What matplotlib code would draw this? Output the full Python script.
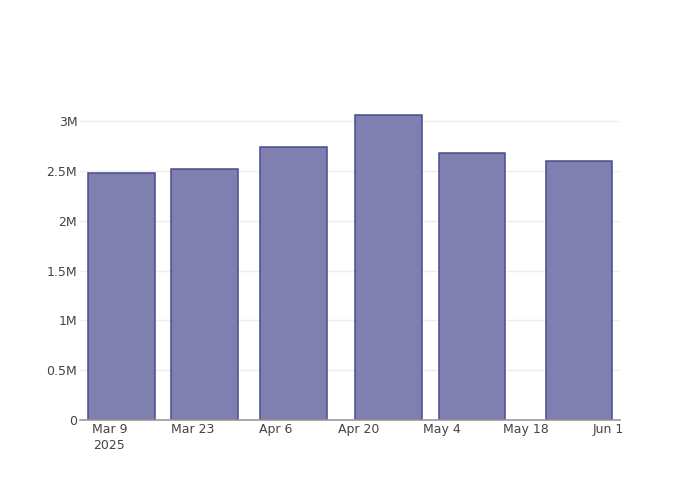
import numpy as np
import matplotlib
matplotlib.use("Agg")
import matplotlib.pyplot as plt
import matplotlib.dates as mdates

dates = np.array(["2025-03-11", "2025-03-25", "2025-04-09", "2025-04-25", "2025-05-09", "2025-05-27"], dtype="datetime64[D]")
values = [2485000, 2522000, 2744000, 3062000, 2683000, 2606000]

tick_dates = np.array(["2025-03-09", "2025-03-23", "2025-04-06", "2025-04-20", "2025-05-04", "2025-05-18", "2025-06-01"], dtype="datetime64[D]")
tick_labels = ["Mar 9\n2025", "Mar 23", "Apr 6", "Apr 20", "May 4", "May 18", "Jun 1"]
y_ticks = [0, 500000, 1000000, 1500000, 2000000, 2500000, 3000000]
y_labels = ["0", "0.5M", "1M", "1.5M", "2M", "2.5M", "3M"]

fig = plt.figure(figsize=(7, 5), dpi=100)
ax = fig.add_axes([80 / 700, 80 / 500, 540 / 700, 320 / 500])

ax.bar(dates.astype("datetime64[ms]").astype(object), values, width=11.2,
       color="#7f7fb0", edgecolor="#4b4a8f", linewidth=1.1, zorder=3)

ax.set_xlim(mdates.date2num(np.datetime64("2025-03-04T01:00")), mdates.date2num(np.datetime64("2025-06-02T22:00")))
ax.set_ylim(0, 3216000)

ax.set_xticks(mdates.date2num(tick_dates))
ax.set_xticklabels(tick_labels, linespacing=1.3)
ax.set_yticks(y_ticks)
ax.set_yticklabels(y_labels)

ax.grid(axis="y", color="#eeeeee", linewidth=1, zorder=0)
for s in ["top", "right", "left"]:
    ax.spines[s].set_visible(False)
ax.spines["bottom"].set_color("#999999")
ax.spines["bottom"].set_linewidth(1.2)
ax.spines["bottom"].set_zorder(4)

ax.tick_params(axis="x", length=0, pad=2.5, labelsize=9, labelcolor="#444444")
ax.tick_params(axis="y", length=0, pad=2, labelsize=9, labelcolor="#444444")

fig.savefig("out.png", dpi=100)
